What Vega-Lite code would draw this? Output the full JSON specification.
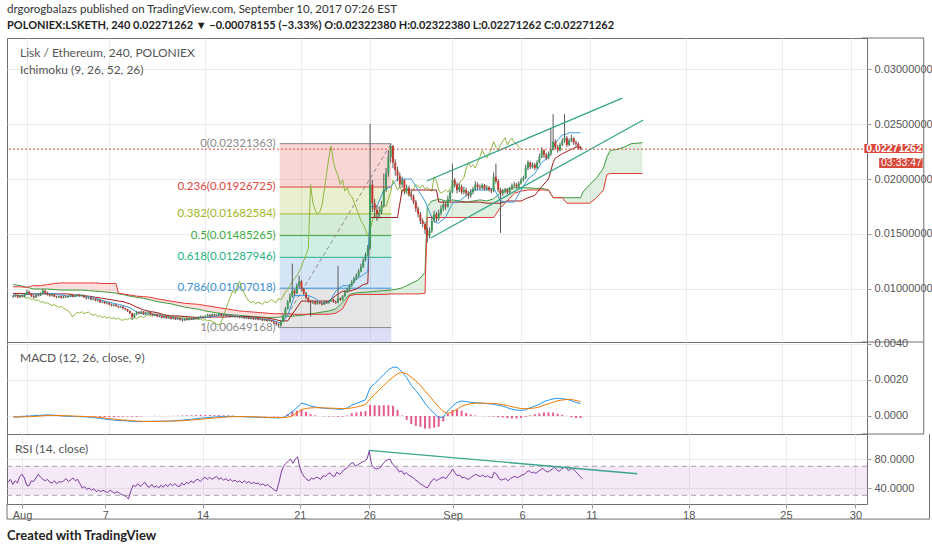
{
"$schema":"https://vega.github.io/schema/vega-lite/v6.json",
"background":"#ffffff",
"padding":{"left":5,"top":3,"right":3,"bottom":4},
"spacing":0,
"bounds":"flush",
"title":{"text":"Created with TradingView","orient":"bottom","anchor":"start","frame":"group","font":"Lato","fontSize":13,"fontWeight":"bold","color":"#222222","offset":9},
"config":{
 "view":{"stroke":"#707070","strokeWidth":1,"fill":"#ffffff"},
 "axis":{"labelFont":"Liberation Sans","labelFontSize":11,"labelColor":"#555555","tickColor":"#999999","tickSize":4,"labelPadding":3,"domain":false,"gridColor":"#ececec","gridWidth":1,"labelFlush":false},
 "text":{"font":"Lato"}
},
"datasets":{
"candles":[
{"t":"2017-07-31T00:00","o":0.0093,"h":0.0095,"l":0.0092,"c":0.00935,"r":48},
{"t":"2017-07-31T04:00","o":0.00935,"h":0.00955,"l":0.00928,"c":0.00945,"r":52},
{"t":"2017-07-31T08:00","o":0.00945,"h":0.0095,"l":0.00915,"c":0.00925,"r":45},
{"t":"2017-07-31T12:00","o":0.00925,"h":0.00948,"l":0.00918,"c":0.0094,"r":50},
{"t":"2017-07-31T16:00","o":0.0094,"h":0.00945,"l":0.00922,"c":0.0093,"r":47},
{"t":"2017-07-31T20:00","o":0.0093,"h":0.00958,"l":0.00925,"c":0.0095,"r":56},
{"t":"2017-08-01T00:00","o":0.0095,"h":0.00995,"l":0.00945,"c":0.00975,"r":59},
{"t":"2017-08-01T04:00","o":0.00975,"h":0.00985,"l":0.0095,"c":0.0096,"r":54},
{"t":"2017-08-01T08:00","o":0.0096,"h":0.00965,"l":0.00925,"c":0.00935,"r":44},
{"t":"2017-08-01T12:00","o":0.00935,"h":0.00945,"l":0.00915,"c":0.00925,"r":43},
{"t":"2017-08-01T16:00","o":0.00925,"h":0.0095,"l":0.00918,"c":0.00945,"r":50},
{"t":"2017-08-01T20:00","o":0.00945,"h":0.00955,"l":0.0093,"c":0.0094,"r":49},
{"t":"2017-08-02T00:00","o":0.0094,"h":0.0097,"l":0.00935,"c":0.0096,"r":54},
{"t":"2017-08-02T04:00","o":0.0096,"h":0.01,"l":0.00955,"c":0.00985,"r":59},
{"t":"2017-08-02T08:00","o":0.00985,"h":0.0099,"l":0.00955,"c":0.00965,"r":55},
{"t":"2017-08-02T12:00","o":0.00965,"h":0.00975,"l":0.0094,"c":0.0095,"r":52},
{"t":"2017-08-02T16:00","o":0.0095,"h":0.00958,"l":0.0093,"c":0.0094,"r":50},
{"t":"2017-08-02T20:00","o":0.0094,"h":0.0096,"l":0.00932,"c":0.0095,"r":52},
{"t":"2017-08-03T00:00","o":0.0095,"h":0.00955,"l":0.00925,"c":0.0093,"r":48},
{"t":"2017-08-03T04:00","o":0.0093,"h":0.0094,"l":0.00915,"c":0.00925,"r":47},
{"t":"2017-08-03T08:00","o":0.00925,"h":0.00942,"l":0.00918,"c":0.00935,"r":50},
{"t":"2017-08-03T12:00","o":0.00935,"h":0.0094,"l":0.00912,"c":0.0092,"r":46},
{"t":"2017-08-03T16:00","o":0.0092,"h":0.00936,"l":0.00914,"c":0.0093,"r":49},
{"t":"2017-08-03T20:00","o":0.0093,"h":0.00938,"l":0.00918,"c":0.00925,"r":48},
{"t":"2017-08-04T00:00","o":0.00925,"h":0.00942,"l":0.0092,"c":0.00935,"r":50},
{"t":"2017-08-04T04:00","o":0.00935,"h":0.00955,"l":0.00928,"c":0.00945,"r":53},
{"t":"2017-08-04T08:00","o":0.00945,"h":0.0095,"l":0.00924,"c":0.0093,"r":49},
{"t":"2017-08-04T12:00","o":0.0093,"h":0.00948,"l":0.00925,"c":0.0094,"r":51},
{"t":"2017-08-04T16:00","o":0.0094,"h":0.00958,"l":0.00935,"c":0.0095,"r":54},
{"t":"2017-08-04T20:00","o":0.0095,"h":0.00955,"l":0.0093,"c":0.00935,"r":50},
{"t":"2017-08-05T00:00","o":0.00935,"h":0.00955,"l":0.0093,"c":0.00945,"r":52},
{"t":"2017-08-05T04:00","o":0.00945,"h":0.0095,"l":0.00918,"c":0.00925,"r":46},
{"t":"2017-08-05T08:00","o":0.00925,"h":0.0093,"l":0.00905,"c":0.00915,"r":40},
{"t":"2017-08-05T12:00","o":0.00915,"h":0.00928,"l":0.00908,"c":0.0092,"r":42},
{"t":"2017-08-05T16:00","o":0.0092,"h":0.00925,"l":0.00898,"c":0.00905,"r":38},
{"t":"2017-08-05T20:00","o":0.00905,"h":0.00918,"l":0.00898,"c":0.0091,"r":40},
{"t":"2017-08-06T00:00","o":0.0091,"h":0.00915,"l":0.00888,"c":0.00895,"r":37},
{"t":"2017-08-06T04:00","o":0.00895,"h":0.00908,"l":0.00885,"c":0.009,"r":39},
{"t":"2017-08-06T08:00","o":0.009,"h":0.00905,"l":0.00872,"c":0.0088,"r":35},
{"t":"2017-08-06T12:00","o":0.0088,"h":0.00892,"l":0.00872,"c":0.00885,"r":37},
{"t":"2017-08-06T16:00","o":0.00885,"h":0.0089,"l":0.00862,"c":0.0087,"r":35},
{"t":"2017-08-06T20:00","o":0.0087,"h":0.00882,"l":0.0086,"c":0.00875,"r":37},
{"t":"2017-08-07T00:00","o":0.00875,"h":0.0088,"l":0.00852,"c":0.0086,"r":35},
{"t":"2017-08-07T04:00","o":0.0086,"h":0.00868,"l":0.00842,"c":0.0085,"r":34},
{"t":"2017-08-07T08:00","o":0.0085,"h":0.00865,"l":0.0084,"c":0.00858,"r":37},
{"t":"2017-08-07T12:00","o":0.00858,"h":0.00862,"l":0.00838,"c":0.00845,"r":35},
{"t":"2017-08-07T16:00","o":0.00845,"h":0.0085,"l":0.00825,"c":0.00835,"r":33},
{"t":"2017-08-07T20:00","o":0.00835,"h":0.00848,"l":0.00828,"c":0.0084,"r":35},
{"t":"2017-08-08T00:00","o":0.0084,"h":0.00845,"l":0.00815,"c":0.00825,"r":33},
{"t":"2017-08-08T04:00","o":0.00825,"h":0.0083,"l":0.00805,"c":0.00815,"r":31},
{"t":"2017-08-08T08:00","o":0.00815,"h":0.0082,"l":0.0079,"c":0.008,"r":30},
{"t":"2017-08-08T12:00","o":0.008,"h":0.00805,"l":0.0077,"c":0.0078,"r":28},
{"t":"2017-08-08T16:00","o":0.0078,"h":0.00785,"l":0.0072,"c":0.00745,"r":25},
{"t":"2017-08-08T20:00","o":0.00745,"h":0.0078,"l":0.00735,"c":0.0077,"r":36},
{"t":"2017-08-09T00:00","o":0.0077,"h":0.008,"l":0.0076,"c":0.0079,"r":44},
{"t":"2017-08-09T04:00","o":0.0079,"h":0.00798,"l":0.0077,"c":0.0078,"r":42},
{"t":"2017-08-09T08:00","o":0.0078,"h":0.00805,"l":0.00772,"c":0.00795,"r":46},
{"t":"2017-08-09T12:00","o":0.00795,"h":0.008,"l":0.00765,"c":0.00775,"r":42},
{"t":"2017-08-09T16:00","o":0.00775,"h":0.00795,"l":0.00768,"c":0.00785,"r":45},
{"t":"2017-08-09T20:00","o":0.00785,"h":0.008,"l":0.00775,"c":0.0079,"r":48},
{"t":"2017-08-10T00:00","o":0.0079,"h":0.00795,"l":0.00762,"c":0.0077,"r":43},
{"t":"2017-08-10T04:00","o":0.0077,"h":0.00778,"l":0.0075,"c":0.0076,"r":41},
{"t":"2017-08-10T08:00","o":0.0076,"h":0.0078,"l":0.00752,"c":0.0077,"r":45},
{"t":"2017-08-10T12:00","o":0.0077,"h":0.00775,"l":0.00742,"c":0.0075,"r":41},
{"t":"2017-08-10T16:00","o":0.0075,"h":0.00765,"l":0.00742,"c":0.00755,"r":43},
{"t":"2017-08-10T20:00","o":0.00755,"h":0.0076,"l":0.00732,"c":0.0074,"r":40},
{"t":"2017-08-11T00:00","o":0.0074,"h":0.00758,"l":0.00732,"c":0.0075,"r":44},
{"t":"2017-08-11T04:00","o":0.0075,"h":0.00755,"l":0.00728,"c":0.00735,"r":41},
{"t":"2017-08-11T08:00","o":0.00735,"h":0.00752,"l":0.00728,"c":0.00745,"r":45},
{"t":"2017-08-11T12:00","o":0.00745,"h":0.0075,"l":0.00722,"c":0.0073,"r":42},
{"t":"2017-08-11T16:00","o":0.0073,"h":0.00748,"l":0.00722,"c":0.0074,"r":46},
{"t":"2017-08-11T20:00","o":0.0074,"h":0.00745,"l":0.00718,"c":0.00725,"r":43},
{"t":"2017-08-12T00:00","o":0.00725,"h":0.00742,"l":0.00718,"c":0.00735,"r":46},
{"t":"2017-08-12T04:00","o":0.00735,"h":0.0074,"l":0.00712,"c":0.0072,"r":43},
{"t":"2017-08-12T08:00","o":0.0072,"h":0.00728,"l":0.00705,"c":0.00715,"r":42},
{"t":"2017-08-12T12:00","o":0.00715,"h":0.00738,"l":0.0071,"c":0.0073,"r":47},
{"t":"2017-08-12T16:00","o":0.0073,"h":0.00735,"l":0.00712,"c":0.0072,"r":44},
{"t":"2017-08-12T20:00","o":0.0072,"h":0.00742,"l":0.00715,"c":0.00735,"r":48},
{"t":"2017-08-13T00:00","o":0.00735,"h":0.0074,"l":0.00718,"c":0.00725,"r":46},
{"t":"2017-08-13T04:00","o":0.00725,"h":0.00748,"l":0.0072,"c":0.0074,"r":50},
{"t":"2017-08-13T08:00","o":0.0074,"h":0.00745,"l":0.00722,"c":0.0073,"r":47},
{"t":"2017-08-13T12:00","o":0.0073,"h":0.00752,"l":0.00725,"c":0.00745,"r":51},
{"t":"2017-08-13T16:00","o":0.00745,"h":0.00758,"l":0.00738,"c":0.0075,"r":52},
{"t":"2017-08-13T20:00","o":0.0075,"h":0.00755,"l":0.00732,"c":0.0074,"r":49},
{"t":"2017-08-14T00:00","o":0.0074,"h":0.00762,"l":0.00735,"c":0.00755,"r":52},
{"t":"2017-08-14T04:00","o":0.00755,"h":0.00775,"l":0.00748,"c":0.00765,"r":55},
{"t":"2017-08-14T08:00","o":0.00765,"h":0.0077,"l":0.00748,"c":0.00755,"r":52},
{"t":"2017-08-14T12:00","o":0.00755,"h":0.00778,"l":0.0075,"c":0.0077,"r":55},
{"t":"2017-08-14T16:00","o":0.0077,"h":0.00775,"l":0.00752,"c":0.0076,"r":52},
{"t":"2017-08-14T20:00","o":0.0076,"h":0.00772,"l":0.00752,"c":0.00765,"r":54},
{"t":"2017-08-15T00:00","o":0.00765,"h":0.00782,"l":0.00758,"c":0.00775,"r":56},
{"t":"2017-08-15T04:00","o":0.00775,"h":0.0078,"l":0.00752,"c":0.0076,"r":52},
{"t":"2017-08-15T08:00","o":0.0076,"h":0.00772,"l":0.00755,"c":0.00765,"r":54},
{"t":"2017-08-15T12:00","o":0.00765,"h":0.0077,"l":0.00748,"c":0.00755,"r":51},
{"t":"2017-08-15T16:00","o":0.00755,"h":0.00768,"l":0.00748,"c":0.0076,"r":53},
{"t":"2017-08-15T20:00","o":0.0076,"h":0.00765,"l":0.00742,"c":0.0075,"r":50},
{"t":"2017-08-16T00:00","o":0.0075,"h":0.00762,"l":0.00742,"c":0.00755,"r":52},
{"t":"2017-08-16T04:00","o":0.00755,"h":0.0076,"l":0.00738,"c":0.00745,"r":49},
{"t":"2017-08-16T08:00","o":0.00745,"h":0.00758,"l":0.00738,"c":0.0075,"r":51},
{"t":"2017-08-16T12:00","o":0.0075,"h":0.00755,"l":0.00732,"c":0.0074,"r":48},
{"t":"2017-08-16T16:00","o":0.0074,"h":0.00752,"l":0.00735,"c":0.00745,"r":50},
{"t":"2017-08-16T20:00","o":0.00745,"h":0.0075,"l":0.00728,"c":0.00735,"r":47},
{"t":"2017-08-17T00:00","o":0.00735,"h":0.0075,"l":0.00728,"c":0.00742,"r":50},
{"t":"2017-08-17T04:00","o":0.00742,"h":0.00748,"l":0.00724,"c":0.0073,"r":47},
{"t":"2017-08-17T08:00","o":0.0073,"h":0.00745,"l":0.00724,"c":0.00738,"r":49},
{"t":"2017-08-17T12:00","o":0.00738,"h":0.00742,"l":0.00718,"c":0.00725,"r":46},
{"t":"2017-08-17T16:00","o":0.00725,"h":0.0074,"l":0.00718,"c":0.00732,"r":48},
{"t":"2017-08-17T20:00","o":0.00732,"h":0.00736,"l":0.00715,"c":0.00722,"r":46},
{"t":"2017-08-18T00:00","o":0.00722,"h":0.00735,"l":0.00715,"c":0.00728,"r":47},
{"t":"2017-08-18T04:00","o":0.00728,"h":0.00732,"l":0.00708,"c":0.00715,"r":44},
{"t":"2017-08-18T08:00","o":0.00715,"h":0.0073,"l":0.00708,"c":0.00722,"r":46},
{"t":"2017-08-18T12:00","o":0.00722,"h":0.00726,"l":0.00702,"c":0.0071,"r":43},
{"t":"2017-08-18T16:00","o":0.0071,"h":0.00725,"l":0.00702,"c":0.00718,"r":45},
{"t":"2017-08-18T20:00","o":0.00718,"h":0.00722,"l":0.00698,"c":0.00705,"r":42},
{"t":"2017-08-19T00:00","o":0.00705,"h":0.0071,"l":0.00685,"c":0.00695,"r":40},
{"t":"2017-08-19T04:00","o":0.00695,"h":0.007,"l":0.00665,"c":0.0068,"r":37},
{"t":"2017-08-19T08:00","o":0.0068,"h":0.00688,"l":0.00649,"c":0.0067,"r":36},
{"t":"2017-08-19T12:00","o":0.0067,"h":0.00712,"l":0.00665,"c":0.00705,"r":48},
{"t":"2017-08-19T16:00","o":0.00705,"h":0.00768,"l":0.007,"c":0.0076,"r":62},
{"t":"2017-08-19T20:00","o":0.0076,"h":0.00835,"l":0.00755,"c":0.0082,"r":70},
{"t":"2017-08-20T00:00","o":0.0082,"h":0.009,"l":0.00812,"c":0.0088,"r":74},
{"t":"2017-08-20T04:00","o":0.0088,"h":0.0096,"l":0.0087,"c":0.0093,"r":77},
{"t":"2017-08-20T08:00","o":0.0093,"h":0.0123,"l":0.0092,"c":0.00985,"r":80},
{"t":"2017-08-20T12:00","o":0.00985,"h":0.01,"l":0.00935,"c":0.0096,"r":74},
{"t":"2017-08-20T16:00","o":0.0096,"h":0.0105,"l":0.00955,"c":0.0103,"r":80},
{"t":"2017-08-20T20:00","o":0.0103,"h":0.0112,"l":0.0101,"c":0.0107,"r":83},
{"t":"2017-08-21T00:00","o":0.0107,"h":0.0108,"l":0.00985,"c":0.01,"r":68},
{"t":"2017-08-21T04:00","o":0.01,"h":0.0101,"l":0.00945,"c":0.0096,"r":60},
{"t":"2017-08-21T08:00","o":0.0096,"h":0.00975,"l":0.00905,"c":0.0092,"r":55},
{"t":"2017-08-21T12:00","o":0.0092,"h":0.0093,"l":0.00875,"c":0.0089,"r":52},
{"t":"2017-08-21T16:00","o":0.0089,"h":0.009,"l":0.0075,"c":0.00875,"r":50},
{"t":"2017-08-21T20:00","o":0.00875,"h":0.00895,"l":0.00865,"c":0.00885,"r":54},
{"t":"2017-08-22T00:00","o":0.00885,"h":0.00892,"l":0.00855,"c":0.00865,"r":52},
{"t":"2017-08-22T04:00","o":0.00865,"h":0.0089,"l":0.00858,"c":0.0088,"r":55},
{"t":"2017-08-22T08:00","o":0.0088,"h":0.00888,"l":0.0086,"c":0.0087,"r":54},
{"t":"2017-08-22T12:00","o":0.0087,"h":0.00878,"l":0.0085,"c":0.0086,"r":52},
{"t":"2017-08-22T16:00","o":0.0086,"h":0.00892,"l":0.00855,"c":0.00885,"r":57},
{"t":"2017-08-22T20:00","o":0.00885,"h":0.00895,"l":0.00865,"c":0.00875,"r":56},
{"t":"2017-08-23T00:00","o":0.00875,"h":0.009,"l":0.00868,"c":0.0089,"r":59},
{"t":"2017-08-23T04:00","o":0.0089,"h":0.00915,"l":0.00882,"c":0.00905,"r":61},
{"t":"2017-08-23T08:00","o":0.00905,"h":0.0091,"l":0.00875,"c":0.00885,"r":57},
{"t":"2017-08-23T12:00","o":0.00885,"h":0.00895,"l":0.00865,"c":0.00875,"r":56},
{"t":"2017-08-23T16:00","o":0.00875,"h":0.0121,"l":0.0087,"c":0.00915,"r":62},
{"t":"2017-08-23T20:00","o":0.00915,"h":0.00925,"l":0.0089,"c":0.009,"r":59},
{"t":"2017-08-24T00:00","o":0.009,"h":0.00945,"l":0.00895,"c":0.00935,"r":61},
{"t":"2017-08-24T04:00","o":0.00935,"h":0.00985,"l":0.00925,"c":0.0097,"r":65},
{"t":"2017-08-24T08:00","o":0.0097,"h":0.0101,"l":0.0096,"c":0.00995,"r":67},
{"t":"2017-08-24T12:00","o":0.00995,"h":0.01045,"l":0.00985,"c":0.0103,"r":70},
{"t":"2017-08-24T16:00","o":0.0103,"h":0.0108,"l":0.0102,"c":0.01065,"r":74},
{"t":"2017-08-24T20:00","o":0.01065,"h":0.0111,"l":0.0105,"c":0.01095,"r":75},
{"t":"2017-08-25T00:00","o":0.01095,"h":0.0114,"l":0.0108,"c":0.0112,"r":70},
{"t":"2017-08-25T04:00","o":0.0112,"h":0.0118,"l":0.0111,"c":0.0116,"r":72},
{"t":"2017-08-25T08:00","o":0.0116,"h":0.0123,"l":0.0115,"c":0.012,"r":74},
{"t":"2017-08-25T12:00","o":0.012,"h":0.0128,"l":0.0119,"c":0.0126,"r":76},
{"t":"2017-08-25T16:00","o":0.0126,"h":0.0133,"l":0.0125,"c":0.0131,"r":77},
{"t":"2017-08-25T20:00","o":0.0131,"h":0.014,"l":0.013,"c":0.0137,"r":80},
{"t":"2017-08-26T00:00","o":0.0137,"h":0.025,"l":0.0136,"c":0.0195,"r":91},
{"t":"2017-08-26T04:00","o":0.0195,"h":0.0199,"l":0.017,"c":0.0178,"r":72},
{"t":"2017-08-26T08:00","o":0.0178,"h":0.0182,"l":0.0165,"c":0.0172,"r":68},
{"t":"2017-08-26T12:00","o":0.0172,"h":0.0176,"l":0.0162,"c":0.0168,"r":66},
{"t":"2017-08-26T16:00","o":0.0168,"h":0.0175,"l":0.0164,"c":0.017,"r":67},
{"t":"2017-08-26T20:00","o":0.017,"h":0.018,"l":0.0168,"c":0.0176,"r":69},
{"t":"2017-08-27T00:00","o":0.0176,"h":0.0205,"l":0.0174,"c":0.019,"r":74},
{"t":"2017-08-27T04:00","o":0.019,"h":0.021,"l":0.0188,"c":0.0205,"r":77},
{"t":"2017-08-27T08:00","o":0.0205,"h":0.0226,"l":0.0202,"c":0.022,"r":79},
{"t":"2017-08-27T12:00","o":0.022,"h":0.02321,"l":0.0215,"c":0.023,"r":80},
{"t":"2017-08-27T16:00","o":0.023,"h":0.0231,"l":0.021,"c":0.0215,"r":73},
{"t":"2017-08-27T20:00","o":0.0215,"h":0.0218,"l":0.0203,"c":0.0208,"r":70},
{"t":"2017-08-28T00:00","o":0.0208,"h":0.0211,"l":0.0198,"c":0.0203,"r":67},
{"t":"2017-08-28T04:00","o":0.0203,"h":0.0206,"l":0.0192,"c":0.0195,"r":62},
{"t":"2017-08-28T08:00","o":0.0195,"h":0.0202,"l":0.0192,"c":0.0199,"r":64},
{"t":"2017-08-28T12:00","o":0.0199,"h":0.02,"l":0.0186,"c":0.0189,"r":59},
{"t":"2017-08-28T16:00","o":0.0189,"h":0.0195,"l":0.0187,"c":0.0192,"r":61},
{"t":"2017-08-28T20:00","o":0.0192,"h":0.0194,"l":0.0184,"c":0.0186,"r":58},
{"t":"2017-08-29T00:00","o":0.0186,"h":0.0189,"l":0.0181,"c":0.0184,"r":56},
{"t":"2017-08-29T04:00","o":0.0184,"h":0.0186,"l":0.0177,"c":0.0179,"r":54},
{"t":"2017-08-29T08:00","o":0.0179,"h":0.0181,"l":0.017,"c":0.0173,"r":51},
{"t":"2017-08-29T12:00","o":0.0173,"h":0.0175,"l":0.0165,"c":0.0168,"r":49},
{"t":"2017-08-29T16:00","o":0.0168,"h":0.017,"l":0.0159,"c":0.0162,"r":46},
{"t":"2017-08-29T20:00","o":0.0162,"h":0.0164,"l":0.0156,"c":0.0159,"r":44},
{"t":"2017-08-30T00:00","o":0.0159,"h":0.0161,"l":0.015,"c":0.0154,"r":42},
{"t":"2017-08-30T04:00","o":0.0154,"h":0.0156,"l":0.0142,"c":0.0148,"r":40},
{"t":"2017-08-30T08:00","o":0.0148,"h":0.0156,"l":0.0146,"c":0.0153,"r":45},
{"t":"2017-08-30T12:00","o":0.0153,"h":0.0166,"l":0.0151,"c":0.0162,"r":50},
{"t":"2017-08-30T16:00","o":0.0162,"h":0.0171,"l":0.016,"c":0.0168,"r":53},
{"t":"2017-08-30T20:00","o":0.0168,"h":0.017,"l":0.0161,"c":0.0164,"r":50},
{"t":"2017-08-31T00:00","o":0.0164,"h":0.0172,"l":0.0162,"c":0.0169,"r":52},
{"t":"2017-08-31T04:00","o":0.0169,"h":0.0176,"l":0.0167,"c":0.0173,"r":54},
{"t":"2017-08-31T08:00","o":0.0173,"h":0.018,"l":0.0171,"c":0.0177,"r":55},
{"t":"2017-08-31T12:00","o":0.0177,"h":0.0179,"l":0.0172,"c":0.0175,"r":53},
{"t":"2017-08-31T16:00","o":0.0175,"h":0.0185,"l":0.0174,"c":0.0182,"r":57},
{"t":"2017-08-31T20:00","o":0.0182,"h":0.019,"l":0.018,"c":0.0188,"r":61},
{"t":"2017-09-01T00:00","o":0.0188,"h":0.0214,"l":0.0187,"c":0.0199,"r":66},
{"t":"2017-09-01T04:00","o":0.0199,"h":0.0201,"l":0.0192,"c":0.0195,"r":61},
{"t":"2017-09-01T08:00","o":0.0195,"h":0.0197,"l":0.0187,"c":0.019,"r":57},
{"t":"2017-09-01T12:00","o":0.019,"h":0.0196,"l":0.0188,"c":0.0193,"r":58},
{"t":"2017-09-01T16:00","o":0.0193,"h":0.0195,"l":0.0186,"c":0.0188,"r":54},
{"t":"2017-09-01T20:00","o":0.0188,"h":0.0193,"l":0.0186,"c":0.019,"r":55},
{"t":"2017-09-02T00:00","o":0.019,"h":0.0192,"l":0.0184,"c":0.0187,"r":53},
{"t":"2017-09-02T04:00","o":0.0187,"h":0.0189,"l":0.0182,"c":0.0185,"r":52},
{"t":"2017-09-02T08:00","o":0.0185,"h":0.0191,"l":0.0183,"c":0.0188,"r":55},
{"t":"2017-09-02T12:00","o":0.0188,"h":0.0193,"l":0.0186,"c":0.0191,"r":57},
{"t":"2017-09-02T16:00","o":0.0191,"h":0.0198,"l":0.0189,"c":0.0195,"r":59},
{"t":"2017-09-02T20:00","o":0.0195,"h":0.0197,"l":0.019,"c":0.0193,"r":57},
{"t":"2017-09-03T00:00","o":0.0193,"h":0.0195,"l":0.019,"c":0.0192,"r":56},
{"t":"2017-09-03T04:00","o":0.0192,"h":0.0196,"l":0.01905,"c":0.01945,"r":58},
{"t":"2017-09-03T08:00","o":0.01945,"h":0.01955,"l":0.01895,"c":0.0191,"r":55},
{"t":"2017-09-03T12:00","o":0.0191,"h":0.01945,"l":0.01895,"c":0.01925,"r":57},
{"t":"2017-09-03T16:00","o":0.01925,"h":0.01935,"l":0.01885,"c":0.019,"r":55},
{"t":"2017-09-03T20:00","o":0.019,"h":0.01915,"l":0.0187,"c":0.0189,"r":54},
{"t":"2017-09-04T00:00","o":0.0189,"h":0.0206,"l":0.0188,"c":0.0202,"r":62},
{"t":"2017-09-04T04:00","o":0.0202,"h":0.0214,"l":0.0196,"c":0.0198,"r":59},
{"t":"2017-09-04T08:00","o":0.0198,"h":0.02,"l":0.0188,"c":0.019,"r":53},
{"t":"2017-09-04T12:00","o":0.019,"h":0.0192,"l":0.0151,"c":0.0187,"r":51},
{"t":"2017-09-04T16:00","o":0.0187,"h":0.0191,"l":0.0185,"c":0.01885,"r":52},
{"t":"2017-09-04T20:00","o":0.01885,"h":0.0192,"l":0.0187,"c":0.019,"r":53},
{"t":"2017-09-05T00:00","o":0.019,"h":0.01915,"l":0.0186,"c":0.0188,"r":50},
{"t":"2017-09-05T04:00","o":0.0188,"h":0.0193,"l":0.01865,"c":0.01915,"r":53},
{"t":"2017-09-05T08:00","o":0.01915,"h":0.0196,"l":0.019,"c":0.0194,"r":55},
{"t":"2017-09-05T12:00","o":0.0194,"h":0.01975,"l":0.01925,"c":0.0195,"r":56},
{"t":"2017-09-05T16:00","o":0.0195,"h":0.01965,"l":0.01915,"c":0.0193,"r":54},
{"t":"2017-09-05T20:00","o":0.0193,"h":0.0198,"l":0.0192,"c":0.0196,"r":56},
{"t":"2017-09-06T00:00","o":0.0196,"h":0.0201,"l":0.0195,"c":0.0199,"r":58},
{"t":"2017-09-06T04:00","o":0.0199,"h":0.0203,"l":0.01975,"c":0.0201,"r":59},
{"t":"2017-09-06T08:00","o":0.0201,"h":0.0213,"l":0.02,"c":0.021,"r":62},
{"t":"2017-09-06T12:00","o":0.021,"h":0.0217,"l":0.0208,"c":0.0215,"r":64},
{"t":"2017-09-06T16:00","o":0.0215,"h":0.0216,"l":0.0209,"c":0.0211,"r":61},
{"t":"2017-09-06T20:00","o":0.0211,"h":0.0215,"l":0.02095,"c":0.0213,"r":62},
{"t":"2017-09-07T00:00","o":0.0213,"h":0.02145,"l":0.0208,"c":0.021,"r":60},
{"t":"2017-09-07T04:00","o":0.021,"h":0.0217,"l":0.0209,"c":0.0215,"r":63},
{"t":"2017-09-07T08:00","o":0.0215,"h":0.0223,"l":0.0214,"c":0.022,"r":65},
{"t":"2017-09-07T12:00","o":0.022,"h":0.0229,"l":0.0219,"c":0.0226,"r":67},
{"t":"2017-09-07T16:00","o":0.0226,"h":0.0227,"l":0.0219,"c":0.0222,"r":64},
{"t":"2017-09-07T20:00","o":0.0222,"h":0.0224,"l":0.0217,"c":0.0219,"r":62},
{"t":"2017-09-08T00:00","o":0.0219,"h":0.0225,"l":0.0218,"c":0.0223,"r":64},
{"t":"2017-09-08T04:00","o":0.0223,"h":0.0246,"l":0.0221,"c":0.0227,"r":66},
{"t":"2017-09-08T08:00","o":0.0227,"h":0.0259,"l":0.0226,"c":0.0234,"r":69},
{"t":"2017-09-08T12:00","o":0.0234,"h":0.0236,"l":0.0227,"c":0.0229,"r":65},
{"t":"2017-09-08T16:00","o":0.0229,"h":0.0231,"l":0.0224,"c":0.0226,"r":63},
{"t":"2017-09-08T20:00","o":0.0226,"h":0.0233,"l":0.0225,"c":0.0231,"r":66},
{"t":"2017-09-09T00:00","o":0.0231,"h":0.0237,"l":0.023,"c":0.02345,"r":68},
{"t":"2017-09-09T04:00","o":0.02345,"h":0.0259,"l":0.0233,"c":0.02375,"r":69},
{"t":"2017-09-09T08:00","o":0.02375,"h":0.0239,"l":0.0229,"c":0.0231,"r":64},
{"t":"2017-09-09T12:00","o":0.0231,"h":0.0237,"l":0.023,"c":0.0235,"r":66},
{"t":"2017-09-09T16:00","o":0.0235,"h":0.024,"l":0.02335,"c":0.0237,"r":67},
{"t":"2017-09-09T20:00","o":0.0237,"h":0.0238,"l":0.0231,"c":0.0233,"r":63},
{"t":"2017-09-10T00:00","o":0.0233,"h":0.0235,"l":0.02295,"c":0.0232,"r":60},
{"t":"2017-09-10T04:00","o":0.0232,"h":0.02335,"l":0.0227,"c":0.0229,"r":56},
{"t":"2017-09-10T08:00","o":0.0229,"h":0.023,"l":0.02265,"c":0.02271262,"r":53}
],
"ichi":[
{"t":"2017-07-31T00:00","tk":0.00945,"kj":0.0096,"sa":0.0104,"sb":0.0102},
{"t":"2017-07-31T12:00","tk":0.0094,"kj":0.0096,"sa":0.0103,"sb":0.0102},
{"t":"2017-08-01T00:00","tk":0.0095,"kj":0.00955,"sa":0.01015,"sb":0.01015},
{"t":"2017-08-01T12:00","tk":0.00955,"kj":0.00955,"sa":0.01,"sb":0.0103},
{"t":"2017-08-02T00:00","tk":0.00955,"kj":0.00955,"sa":0.01,"sb":0.0103},
{"t":"2017-08-02T12:00","tk":0.0096,"kj":0.00955,"sa":0.01,"sb":0.0104},
{"t":"2017-08-03T00:00","tk":0.0096,"kj":0.00955,"sa":0.00995,"sb":0.0105},
{"t":"2017-08-03T12:00","tk":0.00945,"kj":0.00955,"sa":0.0099,"sb":0.01055},
{"t":"2017-08-04T00:00","tk":0.00935,"kj":0.00955,"sa":0.0099,"sb":0.01055},
{"t":"2017-08-04T12:00","tk":0.00935,"kj":0.00945,"sa":0.0099,"sb":0.01055},
{"t":"2017-08-05T00:00","tk":0.0094,"kj":0.0094,"sa":0.0099,"sb":0.01055},
{"t":"2017-08-05T12:00","tk":0.0093,"kj":0.00935,"sa":0.00985,"sb":0.01055},
{"t":"2017-08-06T00:00","tk":0.00915,"kj":0.00925,"sa":0.0098,"sb":0.01055},
{"t":"2017-08-06T12:00","tk":0.00895,"kj":0.00915,"sa":0.00975,"sb":0.0105},
{"t":"2017-08-07T00:00","tk":0.0088,"kj":0.00905,"sa":0.0097,"sb":0.0105},
{"t":"2017-08-07T12:00","tk":0.00865,"kj":0.00895,"sa":0.00962,"sb":0.0105},
{"t":"2017-08-07T16:00","tk":0.0086,"kj":0.0089,"sa":0.00955,"sb":0.00962},
{"t":"2017-08-08T00:00","tk":0.0085,"kj":0.00885,"sa":0.0095,"sb":0.00955},
{"t":"2017-08-08T12:00","tk":0.0083,"kj":0.00865,"sa":0.00935,"sb":0.00945},
{"t":"2017-08-09T00:00","tk":0.0079,"kj":0.00835,"sa":0.00925,"sb":0.00935},
{"t":"2017-08-09T12:00","tk":0.0077,"kj":0.0081,"sa":0.00915,"sb":0.0093},
{"t":"2017-08-10T00:00","tk":0.00775,"kj":0.00795,"sa":0.009,"sb":0.00925},
{"t":"2017-08-10T12:00","tk":0.00765,"kj":0.00785,"sa":0.00885,"sb":0.0091},
{"t":"2017-08-11T00:00","tk":0.0075,"kj":0.00765,"sa":0.00875,"sb":0.009},
{"t":"2017-08-11T12:00","tk":0.0074,"kj":0.00755,"sa":0.00865,"sb":0.0089},
{"t":"2017-08-12T00:00","tk":0.00735,"kj":0.00755,"sa":0.0085,"sb":0.0088},
{"t":"2017-08-12T12:00","tk":0.00725,"kj":0.0075,"sa":0.00835,"sb":0.0087},
{"t":"2017-08-13T00:00","tk":0.00725,"kj":0.00745,"sa":0.00825,"sb":0.00865},
{"t":"2017-08-13T12:00","tk":0.00735,"kj":0.0074,"sa":0.00815,"sb":0.0086},
{"t":"2017-08-14T00:00","tk":0.0074,"kj":0.0074,"sa":0.008,"sb":0.0085},
{"t":"2017-08-14T12:00","tk":0.0075,"kj":0.00745,"sa":0.0079,"sb":0.0084},
{"t":"2017-08-15T00:00","tk":0.0076,"kj":0.00745,"sa":0.0078,"sb":0.0083},
{"t":"2017-08-15T12:00","tk":0.00765,"kj":0.00745,"sa":0.0077,"sb":0.0082},
{"t":"2017-08-16T00:00","tk":0.00755,"kj":0.0075,"sa":0.00765,"sb":0.0081},
{"t":"2017-08-16T12:00","tk":0.0075,"kj":0.0075,"sa":0.0076,"sb":0.008},
{"t":"2017-08-17T00:00","tk":0.0074,"kj":0.0075,"sa":0.00755,"sb":0.00795},
{"t":"2017-08-17T12:00","tk":0.00735,"kj":0.00745,"sa":0.0075,"sb":0.0079},
{"t":"2017-08-18T00:00","tk":0.00728,"kj":0.0074,"sa":0.00745,"sb":0.00785},
{"t":"2017-08-18T12:00","tk":0.0072,"kj":0.00735,"sa":0.0074,"sb":0.0078},
{"t":"2017-08-19T00:00","tk":0.00712,"kj":0.00725,"sa":0.0074,"sb":0.00775},
{"t":"2017-08-19T12:00","tk":0.0069,"kj":0.0071,"sa":0.00745,"sb":0.00775},
{"t":"2017-08-20T00:00","tk":0.0076,"kj":0.0071,"sa":0.0075,"sb":0.00775},
{"t":"2017-08-20T12:00","tk":0.0094,"kj":0.008,"sa":0.00755,"sb":0.0077},
{"t":"2017-08-21T00:00","tk":0.0094,"kj":0.0089,"sa":0.0076,"sb":0.0077},
{"t":"2017-08-21T12:00","tk":0.0094,"kj":0.0089,"sa":0.0077,"sb":0.0077},
{"t":"2017-08-22T00:00","tk":0.00915,"kj":0.0089,"sa":0.0078,"sb":0.0077},
{"t":"2017-08-22T12:00","tk":0.0087,"kj":0.0089,"sa":0.0079,"sb":0.0077},
{"t":"2017-08-23T00:00","tk":0.00875,"kj":0.0089,"sa":0.008,"sb":0.0077},
{"t":"2017-08-23T12:00","tk":0.0098,"kj":0.0094,"sa":0.0082,"sb":0.0078},
{"t":"2017-08-24T00:00","tk":0.0103,"kj":0.0098,"sa":0.0088,"sb":0.0082},
{"t":"2017-08-24T12:00","tk":0.0103,"kj":0.0098,"sa":0.0095,"sb":0.0094},
{"t":"2017-08-25T00:00","tk":0.0109,"kj":0.01,"sa":0.00965,"sb":0.0095},
{"t":"2017-08-25T12:00","tk":0.0113,"kj":0.0104,"sa":0.0097,"sb":0.0095},
{"t":"2017-08-25T20:00","tk":0.0116,"kj":0.0105,"sa":0.00972,"sb":0.0095},
{"t":"2017-08-26T00:00","tk":0.0175,"kj":0.0165,"sa":0.00975,"sb":0.0095},
{"t":"2017-08-26T12:00","tk":0.0175,"kj":0.0165,"sa":0.0098,"sb":0.0095},
{"t":"2017-08-27T00:00","tk":0.019,"kj":0.0165,"sa":0.00985,"sb":0.0095},
{"t":"2017-08-27T12:00","tk":0.0193,"kj":0.0165,"sa":0.0099,"sb":0.00955},
{"t":"2017-08-28T00:00","tk":0.02,"kj":0.0165,"sa":0.01,"sb":0.00955},
{"t":"2017-08-28T08:00","tk":0.02,"kj":0.019,"sa":0.0101,"sb":0.00955},
{"t":"2017-08-28T12:00","tk":0.02,"kj":0.019,"sa":0.0102,"sb":0.00955},
{"t":"2017-08-29T00:00","tk":0.02,"kj":0.019,"sa":0.0105,"sb":0.00955},
{"t":"2017-08-29T12:00","tk":0.019,"kj":0.019,"sa":0.0108,"sb":0.00955},
{"t":"2017-08-30T00:00","tk":0.018,"kj":0.019,"sa":0.0115,"sb":0.0096},
{"t":"2017-08-30T04:00","tk":0.0175,"kj":0.019,"sa":0.0175,"sb":0.0165},
{"t":"2017-08-30T12:00","tk":0.0165,"kj":0.019,"sa":0.018,"sb":0.0165},
{"t":"2017-08-30T20:00","tk":0.016,"kj":0.019,"sa":0.0181,"sb":0.0165},
{"t":"2017-08-31T00:00","tk":0.016,"kj":0.0179,"sa":0.0182,"sb":0.0165},
{"t":"2017-08-31T12:00","tk":0.0165,"kj":0.0179,"sa":0.018,"sb":0.0165},
{"t":"2017-09-01T00:00","tk":0.0178,"kj":0.0179,"sa":0.0181,"sb":0.0165},
{"t":"2017-09-01T12:00","tk":0.018,"kj":0.0179,"sa":0.018,"sb":0.0165},
{"t":"2017-09-02T00:00","tk":0.0185,"kj":0.0179,"sa":0.0179,"sb":0.0165},
{"t":"2017-09-02T12:00","tk":0.019,"kj":0.0179,"sa":0.018,"sb":0.0165},
{"t":"2017-09-03T00:00","tk":0.019,"kj":0.0179,"sa":0.0181,"sb":0.0165},
{"t":"2017-09-03T12:00","tk":0.019,"kj":0.0178,"sa":0.018,"sb":0.0165},
{"t":"2017-09-04T00:00","tk":0.0192,"kj":0.0178,"sa":0.0182,"sb":0.0165},
{"t":"2017-09-04T12:00","tk":0.018,"kj":0.0178,"sa":0.0188,"sb":0.0174},
{"t":"2017-09-05T00:00","tk":0.0179,"kj":0.018,"sa":0.0191,"sb":0.018},
{"t":"2017-09-05T12:00","tk":0.0179,"kj":0.018,"sa":0.0192,"sb":0.0187},
{"t":"2017-09-06T00:00","tk":0.019,"kj":0.018,"sa":0.0192,"sb":0.0189},
{"t":"2017-09-06T12:00","tk":0.02,"kj":0.0183,"sa":0.0192,"sb":0.019},
{"t":"2017-09-07T00:00","tk":0.0205,"kj":0.0185,"sa":0.01915,"sb":0.019},
{"t":"2017-09-07T12:00","tk":0.0215,"kj":0.0193,"sa":0.01915,"sb":0.019},
{"t":"2017-09-08T00:00","tk":0.022,"kj":0.02,"sa":0.019,"sb":0.019},
{"t":"2017-09-08T08:00","tk":0.0228,"kj":0.0215,"sa":0.0183,"sb":0.0183},
{"t":"2017-09-08T12:00","tk":0.0233,"kj":0.0219,"sa":0.0183,"sb":0.0183},
{"t":"2017-09-09T00:00","tk":0.024,"kj":0.0223,"sa":0.0183,"sb":0.0183},
{"t":"2017-09-09T08:00","tk":0.0241,"kj":0.0225,"sa":0.0183,"sb":0.0178},
{"t":"2017-09-09T12:00","tk":0.0242,"kj":0.0226,"sa":0.0183,"sb":0.0178},
{"t":"2017-09-10T00:00","tk":0.0242,"kj":0.0229,"sa":0.0183,"sb":0.0178},
{"t":"2017-09-10T08:00","tk":0.0242,"kj":0.0229,"sa":0.0183,"sb":0.0178},
{"t":"2017-09-10T12:00","sa":0.0188,"sb":0.0178},
{"t":"2017-09-11T00:00","sa":0.0195,"sb":0.0178},
{"t":"2017-09-11T12:00","sa":0.0201,"sb":0.0183},
{"t":"2017-09-12T00:00","sa":0.021,"sb":0.019},
{"t":"2017-09-12T06:00","sa":0.022,"sb":0.0204},
{"t":"2017-09-12T12:00","sa":0.0226,"sb":0.0205},
{"t":"2017-09-13T00:00","sa":0.0227,"sb":0.0205},
{"t":"2017-09-13T12:00","sa":0.0229,"sb":0.0205},
{"t":"2017-09-14T00:00","sa":0.0232,"sb":0.0205},
{"t":"2017-09-14T20:00","sa":0.0233,"sb":0.0205}
],
"macd":[
{"t":"2017-07-31T00:00","m":-0.00005,"s":-0.00005,"hs":0},
{"t":"2017-07-31T08:00","m":-0.00006,"s":-0.00005,"hs":-0.00001},
{"t":"2017-07-31T16:00","m":-0.00003,"s":-0.00005,"hs":0.00002},
{"t":"2017-08-01T00:00","m":-0.00001,"s":-0.00004,"hs":0.00003},
{"t":"2017-08-01T08:00","m":0,"s":-0.00003,"hs":0.00003},
{"t":"2017-08-01T16:00","m":0.00003,"s":-0.00002,"hs":0.00005},
{"t":"2017-08-02T00:00","m":0.00004,"s":0,"hs":0.00004},
{"t":"2017-08-02T08:00","m":0.00006,"s":0.00002,"hs":0.00004},
{"t":"2017-08-02T16:00","m":0.00006,"s":0.00003,"hs":0.00003},
{"t":"2017-08-03T00:00","m":0.00004,"s":0.00004,"hs":0},
{"t":"2017-08-03T08:00","m":0.00002,"s":0.00003,"hs":-0.00001},
{"t":"2017-08-03T16:00","m":0,"s":0.00002,"hs":-0.00002},
{"t":"2017-08-04T00:00","m":-0.00002,"s":0.00001,"hs":-0.00003},
{"t":"2017-08-04T08:00","m":-0.00002,"s":0,"hs":-0.00002},
{"t":"2017-08-04T16:00","m":-0.00003,"s":-0.00001,"hs":-0.00002},
{"t":"2017-08-05T00:00","m":-0.00004,"s":-0.00002,"hs":-0.00002},
{"t":"2017-08-05T08:00","m":-0.00005,"s":-0.00003,"hs":-0.00002},
{"t":"2017-08-05T16:00","m":-0.00007,"s":-0.00004,"hs":-0.00003},
{"t":"2017-08-06T00:00","m":-0.0001,"s":-0.00006,"hs":-0.00004},
{"t":"2017-08-06T08:00","m":-0.00013,"s":-0.00008,"hs":-0.00005},
{"t":"2017-08-06T16:00","m":-0.00017,"s":-0.00011,"hs":-0.00006},
{"t":"2017-08-07T00:00","m":-0.0002,"s":-0.00014,"hs":-0.00006},
{"t":"2017-08-07T08:00","m":-0.00023,"s":-0.00017,"hs":-0.00006},
{"t":"2017-08-07T16:00","m":-0.00025,"s":-0.0002,"hs":-0.00005},
{"t":"2017-08-08T00:00","m":-0.00026,"s":-0.00022,"hs":-0.00004},
{"t":"2017-08-08T08:00","m":-0.00027,"s":-0.00024,"hs":-0.00003},
{"t":"2017-08-08T16:00","m":-0.0003,"s":-0.00026,"hs":-0.00004},
{"t":"2017-08-09T00:00","m":-0.00032,"s":-0.00028,"hs":-0.00004},
{"t":"2017-08-09T08:00","m":-0.00031,"s":-0.00029,"hs":-0.00002},
{"t":"2017-08-09T16:00","m":-0.0003,"s":-0.0003,"hs":0},
{"t":"2017-08-10T00:00","m":-0.0003,"s":-0.0003,"hs":0},
{"t":"2017-08-10T08:00","m":-0.00029,"s":-0.0003,"hs":0.00001},
{"t":"2017-08-10T16:00","m":-0.00029,"s":-0.0003,"hs":0.00001},
{"t":"2017-08-11T00:00","m":-0.00029,"s":-0.00029,"hs":0},
{"t":"2017-08-11T08:00","m":-0.00028,"s":-0.00029,"hs":0.00001},
{"t":"2017-08-11T16:00","m":-0.00027,"s":-0.00028,"hs":0.00001},
{"t":"2017-08-12T00:00","m":-0.00025,"s":-0.00027,"hs":0.00002},
{"t":"2017-08-12T08:00","m":-0.00023,"s":-0.00026,"hs":0.00003},
{"t":"2017-08-12T16:00","m":-0.0002,"s":-0.00024,"hs":0.00004},
{"t":"2017-08-13T00:00","m":-0.00018,"s":-0.00022,"hs":0.00004},
{"t":"2017-08-13T08:00","m":-0.00015,"s":-0.0002,"hs":0.00005},
{"t":"2017-08-13T16:00","m":-0.00012,"s":-0.00018,"hs":0.00006},
{"t":"2017-08-14T00:00","m":-0.0001,"s":-0.00016,"hs":0.00006},
{"t":"2017-08-14T08:00","m":-0.00008,"s":-0.00013,"hs":0.00005},
{"t":"2017-08-14T16:00","m":-0.00006,"s":-0.00011,"hs":0.00005},
{"t":"2017-08-15T00:00","m":-0.00004,"s":-0.00009,"hs":0.00005},
{"t":"2017-08-15T08:00","m":-0.00003,"s":-0.00007,"hs":0.00004},
{"t":"2017-08-15T16:00","m":-0.00002,"s":-0.00005,"hs":0.00003},
{"t":"2017-08-16T00:00","m":-0.00002,"s":-0.00004,"hs":0.00002},
{"t":"2017-08-16T08:00","m":-0.00003,"s":-0.00003,"hs":0},
{"t":"2017-08-16T16:00","m":-0.00004,"s":-0.00003,"hs":-0.00001},
{"t":"2017-08-17T00:00","m":-0.00005,"s":-0.00004,"hs":-0.00001},
{"t":"2017-08-17T08:00","m":-0.00006,"s":-0.00004,"hs":-0.00002},
{"t":"2017-08-17T16:00","m":-0.00007,"s":-0.00005,"hs":-0.00002},
{"t":"2017-08-18T00:00","m":-0.00008,"s":-0.00006,"hs":-0.00002},
{"t":"2017-08-18T08:00","m":-0.00009,"s":-0.00007,"hs":-0.00002},
{"t":"2017-08-18T16:00","m":-0.00009,"s":-0.00008,"hs":-0.00001},
{"t":"2017-08-19T00:00","m":-0.0001,"s":-0.00008,"hs":-0.00002},
{"t":"2017-08-19T08:00","m":-0.00011,"s":-0.00009,"hs":-0.00002},
{"t":"2017-08-19T16:00","m":-0.00008,"s":-0.00009,"hs":0.00001},
{"t":"2017-08-20T00:00","m":0.00005,"s":-0.00006,"hs":0.00011},
{"t":"2017-08-20T08:00","m":0.00025,"s":0,"hs":0.00025},
{"t":"2017-08-20T16:00","m":0.00045,"s":0.00015,"hs":0.0003},
{"t":"2017-08-21T00:00","m":0.00072,"s":0.00035,"hs":0.00037},
{"t":"2017-08-21T08:00","m":0.00065,"s":0.00042,"hs":0.00023},
{"t":"2017-08-21T16:00","m":0.00055,"s":0.00045,"hs":0.0001},
{"t":"2017-08-22T00:00","m":0.0005,"s":0.00046,"hs":0.00004},
{"t":"2017-08-22T08:00","m":0.00046,"s":0.00046,"hs":0},
{"t":"2017-08-22T16:00","m":0.00043,"s":0.00045,"hs":-0.00002},
{"t":"2017-08-23T00:00","m":0.00041,"s":0.00044,"hs":-0.00003},
{"t":"2017-08-23T08:00","m":0.0004,"s":0.00043,"hs":-0.00003},
{"t":"2017-08-23T16:00","m":0.00038,"s":0.00042,"hs":-0.00004},
{"t":"2017-08-24T00:00","m":0.00037,"s":0.00041,"hs":-0.00004},
{"t":"2017-08-24T08:00","m":0.00045,"s":0.00042,"hs":0.00003},
{"t":"2017-08-24T16:00","m":0.0006,"s":0.00045,"hs":0.00015},
{"t":"2017-08-25T00:00","m":0.0007,"s":0.0005,"hs":0.0002},
{"t":"2017-08-25T08:00","m":0.0008,"s":0.00056,"hs":0.00024},
{"t":"2017-08-25T16:00","m":0.0009,"s":0.00063,"hs":0.00027},
{"t":"2017-08-26T00:00","m":0.00157,"s":0.00095,"hs":0.00062},
{"t":"2017-08-26T08:00","m":0.0018,"s":0.0012,"hs":0.0006},
{"t":"2017-08-26T16:00","m":0.00204,"s":0.00145,"hs":0.00059},
{"t":"2017-08-27T00:00","m":0.0023,"s":0.0017,"hs":0.0006},
{"t":"2017-08-27T08:00","m":0.00255,"s":0.00195,"hs":0.0006},
{"t":"2017-08-27T16:00","m":0.00272,"s":0.00215,"hs":0.00057},
{"t":"2017-08-28T00:00","m":0.00269,"s":0.00235,"hs":0.00034},
{"t":"2017-08-28T08:00","m":0.00245,"s":0.00242,"hs":0.00003},
{"t":"2017-08-28T16:00","m":0.00213,"s":0.00235,"hs":-0.00022},
{"t":"2017-08-29T00:00","m":0.0017,"s":0.00215,"hs":-0.00045},
{"t":"2017-08-29T08:00","m":0.0014,"s":0.00195,"hs":-0.00055},
{"t":"2017-08-29T16:00","m":0.0011,"s":0.0017,"hs":-0.0006},
{"t":"2017-08-30T00:00","m":0.0007,"s":0.0014,"hs":-0.0007},
{"t":"2017-08-30T08:00","m":0.0004,"s":0.0011,"hs":-0.0007},
{"t":"2017-08-30T16:00","m":0.00015,"s":0.0008,"hs":-0.00065},
{"t":"2017-08-31T00:00","m":-0.0001,"s":0.0005,"hs":-0.0006},
{"t":"2017-08-31T08:00","m":-0.00005,"s":0.00025,"hs":-0.0003},
{"t":"2017-08-31T16:00","m":0.00028,"s":0.00015,"hs":0.00013},
{"t":"2017-09-01T00:00","m":0.00055,"s":0.00022,"hs":0.00033},
{"t":"2017-09-01T08:00","m":0.00075,"s":0.00038,"hs":0.00037},
{"t":"2017-09-01T16:00","m":0.00083,"s":0.00053,"hs":0.0003},
{"t":"2017-09-02T00:00","m":0.0008,"s":0.00063,"hs":0.00017},
{"t":"2017-09-02T08:00","m":0.00076,"s":0.00068,"hs":0.00008},
{"t":"2017-09-02T16:00","m":0.00074,"s":0.00071,"hs":0.00003},
{"t":"2017-09-03T00:00","m":0.00072,"s":0.00072,"hs":0},
{"t":"2017-09-03T08:00","m":0.0007,"s":0.00071,"hs":-0.00001},
{"t":"2017-09-03T16:00","m":0.00068,"s":0.0007,"hs":-0.00002},
{"t":"2017-09-04T00:00","m":0.00065,"s":0.00069,"hs":-0.00004},
{"t":"2017-09-04T08:00","m":0.0006,"s":0.00067,"hs":-0.00007},
{"t":"2017-09-04T16:00","m":0.00055,"s":0.00063,"hs":-0.00008},
{"t":"2017-09-05T00:00","m":0.00046,"s":0.00058,"hs":-0.00012},
{"t":"2017-09-05T08:00","m":0.00038,"s":0.00052,"hs":-0.00014},
{"t":"2017-09-05T16:00","m":0.00033,"s":0.00046,"hs":-0.00013},
{"t":"2017-09-06T00:00","m":0.00031,"s":0.00042,"hs":-0.00011},
{"t":"2017-09-06T08:00","m":0.00035,"s":0.0004,"hs":-0.00005},
{"t":"2017-09-06T16:00","m":0.00046,"s":0.00042,"hs":0.00004},
{"t":"2017-09-07T00:00","m":0.00055,"s":0.00045,"hs":0.0001},
{"t":"2017-09-07T08:00","m":0.00065,"s":0.0005,"hs":0.00015},
{"t":"2017-09-07T16:00","m":0.0008,"s":0.0006,"hs":0.0002},
{"t":"2017-09-08T00:00","m":0.00088,"s":0.00068,"hs":0.0002},
{"t":"2017-09-08T08:00","m":0.00095,"s":0.00076,"hs":0.00019},
{"t":"2017-09-08T16:00","m":0.00098,"s":0.00085,"hs":0.00013},
{"t":"2017-09-09T00:00","m":0.00096,"s":0.00089,"hs":0.00007},
{"t":"2017-09-09T08:00","m":0.00093,"s":0.00092,"hs":0.00001},
{"t":"2017-09-09T16:00","m":0.00085,"s":0.00092,"hs":-0.00007},
{"t":"2017-09-10T00:00","m":0.00075,"s":0.00086,"hs":-0.00011},
{"t":"2017-09-10T08:00","m":0.00069,"s":0.0008,"hs":-0.00011}
],
"fib":[
{"lvl":"0","p":0.02321363,"lab":"0(0.02321363)"},
{"lvl":"0.236","p":0.01926725,"lab":"0.236(0.01926725)"},
{"lvl":"0.382","p":0.01682584,"lab":"0.382(0.01682584)"},
{"lvl":"0.5","p":0.01485265,"lab":"0.5(0.01485265)"},
{"lvl":"0.618","p":0.01287946,"lab":"0.618(0.01287946)"},
{"lvl":"0.786","p":0.01007018,"lab":"0.786(0.01007018)"},
{"lvl":"1","p":0.00649168,"lab":"1(0.00649168)"}
],
"fibband":[
{"lvl":"0.236","lo":0.01926725,"hi":0.02321363},
{"lvl":"0.382","lo":0.01682584,"hi":0.01926725},
{"lvl":"0.5","lo":0.01485265,"hi":0.01682584},
{"lvl":"0.618","lo":0.01287946,"hi":0.01485265},
{"lvl":"0.786","lo":0.01007018,"hi":0.01287946},
{"lvl":"1","lo":0.00649168,"hi":0.01007018},
{"lvl":"1.618","lo":0.003,"hi":0.00649168}
],
"chan":[
{"t":"2017-08-30T03:00","p":0.01982,"t2":"2017-09-13T09:00","p2":0.02736},
{"t":"2017-08-30T10:00","p":0.01464,"t2":"2017-09-14T21:30","p2":0.02536}
]
},
"vconcat":[
{
"width":860,"height":304,
"title":{"text":"drgorogbalazs published on TradingView.com, September 10, 2017 07:26 EST","subtitle":"POLONIEX:LSKETH, 240  0.02271262 ▼ −0.00078155 (−3.33%)  O:0.02322380 H:0.02322380 L:0.02271262 C:0.02271262","anchor":"start","frame":"group","font":"Lato","fontSize":11.5,"fontWeight":"normal","color":"#333333","subtitleFont":"Lato","subtitleFontSize":11,"subtitleFontWeight":"bold","subtitleColor":"#222222","subtitlePadding":4,"offset":7},
"layer":[
{"data":{"name":"fibband"},"mark":{"type":"rect","opacity":0.22,"clip":true},
 "encoding":{
  "x":{"datum":{"year":2017,"month":8,"date":19,"hours":10},"type":"temporal","title":null,"scale":{"domain":[{"year":2017,"month":7,"date":30,"hours":22},{"year":2017,"month":9,"date":30,"hours":20}]},
   "axis":{"values":[{"year":2017,"month":8,"date":1},{"year":2017,"month":8,"date":7},{"year":2017,"month":8,"date":14},{"year":2017,"month":8,"date":21},{"year":2017,"month":8,"date":26},{"year":2017,"month":9,"date":1},{"year":2017,"month":9,"date":6},{"year":2017,"month":9,"date":11},{"year":2017,"month":9,"date":18},{"year":2017,"month":9,"date":25},{"year":2017,"month":9,"date":30}],"labels":false,"ticks":false,"domain":false,"grid":true,"title":null,"labelPadding":0,"tickSize":0,"minExtent":0,"maxExtent":0,"offset":0}},
  "x2":{"datum":{"year":2017,"month":8,"date":27,"hours":13}},
  "y":{"field":"lo","type":"quantitative","title":null,"scale":{"domain":[0.00518,0.03282],"nice":false,"zero":false},"axis":{"orient":"right","values":[0.01,0.015,0.02,0.025,0.03],"format":".8f","grid":true,"title":null}},
  "y2":{"field":"hi"},
  "color":{"field":"lvl","type":"nominal","legend":null,"scale":{"domain":["0","0.236","0.382","0.5","0.618","0.786","1","1.618"],"range":["#8a8a8a","#e0463f","#9fb524","#3daa45","#26b385","#3c8fd6","#8a8a8a","#6b63d6"]}}}},
{"data":{"name":"ichi"},"transform":[{"filter":"datum.sa < datum.sb"}],"mark":{"type":"area","color":"#f44336","opacity":0.17},
 "encoding":{"x":{"field":"t","type":"temporal","title":null,"scale":{"domain":[{"year":2017,"month":7,"date":30,"hours":22},{"year":2017,"month":9,"date":30,"hours":20}]}},"y":{"field":"sa","type":"quantitative","title":null,"scale":{"domain":[0.00518,0.03282],"nice":false,"zero":false}},"y2":{"field":"sb"}}},
{"data":{"name":"ichi"},"transform":[{"filter":"datum.sa >= datum.sb && time(datum.t) >= time(datetime(2017,7,21))"}],"mark":{"type":"area","color":"#43a047","opacity":0.17},
 "encoding":{"x":{"field":"t","type":"temporal","title":null,"scale":{"domain":[{"year":2017,"month":7,"date":30,"hours":22},{"year":2017,"month":9,"date":30,"hours":20}]}},"y":{"field":"sa","type":"quantitative","title":null,"scale":{"domain":[0.00518,0.03282],"nice":false,"zero":false}},"y2":{"field":"sb"}}},
{"data":{"name":"ichi"},"mark":{"type":"line","color":"#3e9b3e","strokeWidth":1},
 "encoding":{"x":{"field":"t","type":"temporal","title":null,"scale":{"domain":[{"year":2017,"month":7,"date":30,"hours":22},{"year":2017,"month":9,"date":30,"hours":20}]}},"y":{"field":"sa","type":"quantitative","title":null,"scale":{"domain":[0.00518,0.03282],"nice":false,"zero":false}}}},
{"data":{"name":"ichi"},"mark":{"type":"line","color":"#e53935","strokeWidth":1},
 "encoding":{"x":{"field":"t","type":"temporal","title":null,"scale":{"domain":[{"year":2017,"month":7,"date":30,"hours":22},{"year":2017,"month":9,"date":30,"hours":20}]}},"y":{"field":"sb","type":"quantitative","title":null,"scale":{"domain":[0.00518,0.03282],"nice":false,"zero":false}}}},
{"data":{"name":"fib"},"mark":{"type":"rule","strokeWidth":1},
 "encoding":{"x":{"datum":{"year":2017,"month":8,"date":19,"hours":10},"type":"temporal","title":null,"scale":{"domain":[{"year":2017,"month":7,"date":30,"hours":22},{"year":2017,"month":9,"date":30,"hours":20}]}},"x2":{"datum":{"year":2017,"month":8,"date":27,"hours":13}},"y":{"field":"p","type":"quantitative","title":null,"scale":{"domain":[0.00518,0.03282],"nice":false,"zero":false}},"color":{"field":"lvl","type":"nominal","legend":null}}},
{"data":{"name":"fib"},"mark":{"type":"text","align":"right","baseline":"middle","dx":-4,"fontSize":11.5,"font":"Lato"},
 "encoding":{"x":{"datum":{"year":2017,"month":8,"date":19,"hours":10},"type":"temporal","title":null,"scale":{"domain":[{"year":2017,"month":7,"date":30,"hours":22},{"year":2017,"month":9,"date":30,"hours":20}]}},"y":{"field":"p","type":"quantitative","title":null,"scale":{"domain":[0.00518,0.03282],"nice":false,"zero":false}},"text":{"field":"lab"},"color":{"field":"lvl","type":"nominal","legend":null}}},
{"data":{"values":[{}]},"mark":{"type":"rule","color":"#8a8a8a","strokeDash":[4,3]},
 "encoding":{"x":{"datum":{"year":2017,"month":8,"date":19,"hours":10},"type":"temporal","title":null,"scale":{"domain":[{"year":2017,"month":7,"date":30,"hours":22},{"year":2017,"month":9,"date":30,"hours":20}]}},"x2":{"datum":{"year":2017,"month":8,"date":27,"hours":13}},"y":{"datum":0.00649168,"type":"quantitative","title":null,"scale":{"domain":[0.00518,0.03282],"nice":false,"zero":false}},"y2":{"datum":0.02321363}}},
{"data":{"name":"candles"},"transform":[{"window":[{"op":"lead","field":"c","param":26,"as":"lag"}],"sort":[{"field":"t","order":"ascending"}]}],"mark":{"type":"line","color":"#8fb63f","strokeWidth":1},
 "encoding":{"x":{"field":"t","type":"temporal","title":null,"scale":{"domain":[{"year":2017,"month":7,"date":30,"hours":22},{"year":2017,"month":9,"date":30,"hours":20}]}},"y":{"field":"lag","type":"quantitative","title":null,"scale":{"domain":[0.00518,0.03282],"nice":false,"zero":false}}}},
{"data":{"name":"ichi"},"mark":{"type":"line","color":"#a31c1c","strokeWidth":1},
 "encoding":{"x":{"field":"t","type":"temporal","title":null,"scale":{"domain":[{"year":2017,"month":7,"date":30,"hours":22},{"year":2017,"month":9,"date":30,"hours":20}]}},"y":{"field":"kj","type":"quantitative","title":null,"scale":{"domain":[0.00518,0.03282],"nice":false,"zero":false}}}},
{"data":{"name":"ichi"},"mark":{"type":"line","color":"#3d9be0","strokeWidth":1},
 "encoding":{"x":{"field":"t","type":"temporal","title":null,"scale":{"domain":[{"year":2017,"month":7,"date":30,"hours":22},{"year":2017,"month":9,"date":30,"hours":20}]}},"y":{"field":"tk","type":"quantitative","title":null,"scale":{"domain":[0.00518,0.03282],"nice":false,"zero":false}}}},
{"data":{"name":"candles"},"mark":{"type":"rule","color":"#5a5a5a","strokeWidth":1},
 "encoding":{"x":{"field":"t","type":"temporal","title":null,"scale":{"domain":[{"year":2017,"month":7,"date":30,"hours":22},{"year":2017,"month":9,"date":30,"hours":20}]}},"y":{"field":"l","type":"quantitative","title":null,"scale":{"domain":[0.00518,0.03282],"nice":false,"zero":false}},"y2":{"field":"h"}}},
{"data":{"name":"candles"},"mark":{"type":"bar","width":2},
 "encoding":{"x":{"field":"t","type":"temporal","title":null,"scale":{"domain":[{"year":2017,"month":7,"date":30,"hours":22},{"year":2017,"month":9,"date":30,"hours":20}]}},"y":{"field":"o","type":"quantitative","title":null,"scale":{"domain":[0.00518,0.03282],"nice":false,"zero":false}},"y2":{"field":"c"},"color":{"condition":{"test":"datum.c >= datum.o","value":"#3f9a5c"},"value":"#c23a2e"}}},
{"data":{"name":"chan","format":{"parse":{"t":"date","t2":"date"}}},"mark":{"type":"rule","color":"#35a58a","strokeWidth":1.3},
 "encoding":{"x":{"field":"t","type":"temporal","title":null,"scale":{"domain":[{"year":2017,"month":7,"date":30,"hours":22},{"year":2017,"month":9,"date":30,"hours":20}]}},"x2":{"field":"t2"},"y":{"field":"p","type":"quantitative","title":null,"scale":{"domain":[0.00518,0.03282],"nice":false,"zero":false}},"y2":{"field":"p2"}}},
{"data":{"values":[{}]},"mark":{"type":"rule","color":"#e0463c","strokeDash":[2,2],"strokeWidth":1},
 "encoding":{"y":{"datum":0.02271262,"type":"quantitative","title":null,"scale":{"domain":[0.00518,0.03282],"nice":false,"zero":false}}}},
{"data":{"values":[{"y":0.03282,"y2":0.03282},{"y":0.00518,"y2":0.00518}]},"mark":{"type":"rule","color":"#707070","strokeWidth":1},
 "encoding":{"x":{"datum":{"year":2017,"month":9,"date":30,"hours":20},"type":"temporal","title":null,"scale":{"domain":[{"year":2017,"month":7,"date":30,"hours":22},{"year":2017,"month":9,"date":30,"hours":20}]}},"x2":{"datum":{"year":2017,"month":10,"date":5,"hours":8}},"y":{"field":"y","type":"quantitative","title":null,"scale":{"domain":[0.00518,0.03282],"nice":false,"zero":false}},"y2":{"field":"y2"}}},
{"data":{"values":[{}]},"mark":{"type":"rule","color":"#707070","strokeWidth":1},
 "encoding":{"x":{"datum":{"year":2017,"month":10,"date":5,"hours":8},"type":"temporal","title":null,"scale":{"domain":[{"year":2017,"month":7,"date":30,"hours":22},{"year":2017,"month":9,"date":30,"hours":20}]}},"y":{"datum":0.00518,"type":"quantitative","title":null,"scale":{"domain":[0.00518,0.03282],"nice":false,"zero":false}},"y2":{"datum":0.03282}}},
{"data":{"values":[{}]},"mark":{"type":"rect","color":"#d8483b"},
 "encoding":{"x":{"datum":{"year":2017,"month":10,"date":1},"type":"temporal","title":null,"scale":{"domain":[{"year":2017,"month":7,"date":30,"hours":22},{"year":2017,"month":9,"date":30,"hours":20}]}},"x2":{"datum":{"year":2017,"month":10,"date":5,"hours":6}},"y":{"datum":0.02236,"type":"quantitative","title":null,"scale":{"domain":[0.00518,0.03282],"nice":false,"zero":false}},"y2":{"datum":0.02318}}},
{"data":{"values":[{}]},"mark":{"type":"text","color":"#ffffff","fontSize":10.5,"font":"Liberation Sans","fontWeight":"bold","align":"center","baseline":"middle"},
 "encoding":{"x":{"datum":{"year":2017,"month":10,"date":3,"hours":4},"type":"temporal","title":null,"scale":{"domain":[{"year":2017,"month":7,"date":30,"hours":22},{"year":2017,"month":9,"date":30,"hours":20}]}},"y":{"datum":0.02277,"type":"quantitative","title":null,"scale":{"domain":[0.00518,0.03282],"nice":false,"zero":false}},"text":{"value":"0.02271262"}}},
{"data":{"values":[{}]},"mark":{"type":"rect","color":"#d8483b"},
 "encoding":{"x":{"datum":{"year":2017,"month":10,"date":2,"hours":2},"type":"temporal","title":null,"scale":{"domain":[{"year":2017,"month":7,"date":30,"hours":22},{"year":2017,"month":9,"date":30,"hours":20}]}},"x2":{"datum":{"year":2017,"month":10,"date":5,"hours":6}},"y":{"datum":0.021,"type":"quantitative","title":null,"scale":{"domain":[0.00518,0.03282],"nice":false,"zero":false}},"y2":{"datum":0.02191}}},
{"data":{"values":[{}]},"mark":{"type":"text","color":"#ffffff","fontSize":10.5,"font":"Liberation Sans","align":"center","baseline":"middle"},
 "encoding":{"x":{"datum":{"year":2017,"month":10,"date":3,"hours":17},"type":"temporal","title":null,"scale":{"domain":[{"year":2017,"month":7,"date":30,"hours":22},{"year":2017,"month":9,"date":30,"hours":20}]}},"y":{"datum":0.02146,"type":"quantitative","title":null,"scale":{"domain":[0.00518,0.03282],"nice":false,"zero":false}},"text":{"value":"03:33:47"}}},
{"data":{"values":[{"y":0.03145,"txt":"Lisk / Ethereum, 240, POLONIEX"},{"y":0.02991,"txt":"Ichimoku (9, 26, 52, 26)"}]},"mark":{"type":"text","align":"left","baseline":"middle","fontSize":12,"font":"Lato","color":"#555555"},
 "encoding":{"x":{"datum":{"year":2017,"month":7,"date":31,"hours":12},"type":"temporal","title":null,"scale":{"domain":[{"year":2017,"month":7,"date":30,"hours":22},{"year":2017,"month":9,"date":30,"hours":20}]}},"y":{"field":"y","type":"quantitative","title":null,"scale":{"domain":[0.00518,0.03282],"nice":false,"zero":false}},"text":{"field":"txt"}}}
]
},
{
"width":860,"height":92,
"layer":[
{"data":{"name":"macd"},"mark":{"type":"bar","width":2,"color":"#e2407a","opacity":0.85},
 "encoding":{
  "x":{"field":"t","type":"temporal","title":null,"scale":{"domain":[{"year":2017,"month":7,"date":30,"hours":22},{"year":2017,"month":9,"date":30,"hours":20}]},
   "axis":{"values":[{"year":2017,"month":8,"date":1},{"year":2017,"month":8,"date":7},{"year":2017,"month":8,"date":14},{"year":2017,"month":8,"date":21},{"year":2017,"month":8,"date":26},{"year":2017,"month":9,"date":1},{"year":2017,"month":9,"date":6},{"year":2017,"month":9,"date":11},{"year":2017,"month":9,"date":18},{"year":2017,"month":9,"date":25},{"year":2017,"month":9,"date":30}],"labels":false,"ticks":false,"domain":false,"grid":true,"title":null,"labelPadding":0,"tickSize":0,"minExtent":0,"maxExtent":0,"offset":0}},
  "y":{"field":"hs","type":"quantitative","title":null,"scale":{"domain":[-0.001,0.00411],"nice":false,"zero":false},"axis":{"orient":"right","values":[0,0.002,0.004],"format":".4f","grid":true,"title":null}},
  "y2":{"datum":0}}},
{"data":{"name":"macd"},"mark":{"type":"line","color":"#2196f3","strokeWidth":1},
 "encoding":{"x":{"field":"t","type":"temporal","title":null,"scale":{"domain":[{"year":2017,"month":7,"date":30,"hours":22},{"year":2017,"month":9,"date":30,"hours":20}]}},"y":{"field":"m","type":"quantitative","title":null,"scale":{"domain":[-0.001,0.00411],"nice":false,"zero":false}}}},
{"data":{"name":"macd"},"mark":{"type":"line","color":"#f57c00","strokeWidth":1},
 "encoding":{"x":{"field":"t","type":"temporal","title":null,"scale":{"domain":[{"year":2017,"month":7,"date":30,"hours":22},{"year":2017,"month":9,"date":30,"hours":20}]}},"y":{"field":"s","type":"quantitative","title":null,"scale":{"domain":[-0.001,0.00411],"nice":false,"zero":false}}}},
{"data":{"values":[{}]},"mark":{"type":"rule","color":"#707070","strokeWidth":1},
 "encoding":{"x":{"datum":{"year":2017,"month":9,"date":30,"hours":20},"type":"temporal","title":null,"scale":{"domain":[{"year":2017,"month":7,"date":30,"hours":22},{"year":2017,"month":9,"date":30,"hours":20}]}},"x2":{"datum":{"year":2017,"month":10,"date":5,"hours":8}},"y":{"datum":-0.001,"type":"quantitative","title":null,"scale":{"domain":[-0.001,0.00411],"nice":false,"zero":false}},"y2":{"datum":-0.001}}},
{"data":{"values":[{}]},"mark":{"type":"rule","color":"#707070","strokeWidth":1},
 "encoding":{"x":{"datum":{"year":2017,"month":10,"date":5,"hours":8},"type":"temporal","title":null,"scale":{"domain":[{"year":2017,"month":7,"date":30,"hours":22},{"year":2017,"month":9,"date":30,"hours":20}]}},"y":{"datum":-0.001,"type":"quantitative","title":null,"scale":{"domain":[-0.001,0.00411],"nice":false,"zero":false}},"y2":{"datum":0.00411}}},
{"data":{"values":[{}]},"mark":{"type":"text","align":"left","baseline":"middle","fontSize":12,"font":"Lato","color":"#555555"},
 "encoding":{"x":{"datum":{"year":2017,"month":7,"date":31,"hours":12},"type":"temporal","title":null,"scale":{"domain":[{"year":2017,"month":7,"date":30,"hours":22},{"year":2017,"month":9,"date":30,"hours":20}]}},"y":{"datum":0.00322,"type":"quantitative","title":null,"scale":{"domain":[-0.001,0.00411],"nice":false,"zero":false}},"text":{"value":"MACD (12, 26, close, 9)"}}}
]
},
{
"width":860,"height":70,
"layer":[
{"data":{"values":[{}]},"mark":{"type":"rect","color":"#9c27b0","opacity":0.1},
 "encoding":{
  "x":{"datum":{"year":2017,"month":7,"date":30,"hours":22},"type":"temporal","title":null,"scale":{"domain":[{"year":2017,"month":7,"date":30,"hours":22},{"year":2017,"month":9,"date":30,"hours":20}]},
   "axis":{"values":[{"year":2017,"month":8,"date":1},{"year":2017,"month":8,"date":7},{"year":2017,"month":8,"date":14},{"year":2017,"month":8,"date":21},{"year":2017,"month":8,"date":26},{"year":2017,"month":9,"date":1},{"year":2017,"month":9,"date":6},{"year":2017,"month":9,"date":11},{"year":2017,"month":9,"date":18},{"year":2017,"month":9,"date":25},{"year":2017,"month":9,"date":30}],"labelExpr":"date(datum.value) == 1 ? timeFormat(datum.value, '%b') : timeFormat(datum.value, '%-d')","grid":true,"ticks":true,"title":null,"labelOverlap":false,"labelPadding":1}},
  "x2":{"datum":{"year":2017,"month":9,"date":30,"hours":20}},
  "y":{"datum":30,"type":"quantitative","title":null,"scale":{"domain":[18,114.5],"nice":false,"zero":false},"axis":{"orient":"right","values":[40,80],"format":".4f","grid":true,"title":null}},
  "y2":{"datum":70}}},
{"data":{"values":[{"v":70},{"v":30}]},"mark":{"type":"rule","color":"#a5a5a5","strokeDash":[5,4]},
 "encoding":{"y":{"field":"v","type":"quantitative","title":null,"scale":{"domain":[18,114.5],"nice":false,"zero":false}}}},
{"data":{"name":"candles"},"mark":{"type":"line","color":"#7b3aa0","strokeWidth":1},
 "encoding":{"x":{"field":"t","type":"temporal","title":null,"scale":{"domain":[{"year":2017,"month":7,"date":30,"hours":22},{"year":2017,"month":9,"date":30,"hours":20}]}},"y":{"field":"r","type":"quantitative","title":null,"scale":{"domain":[18,114.5],"nice":false,"zero":false}}}},
{"data":{"values":[{}]},"mark":{"type":"rule","color":"#3aa58c","strokeWidth":1.3},
 "encoding":{"x":{"datum":{"year":2017,"month":8,"date":25,"hours":23},"type":"temporal","title":null,"scale":{"domain":[{"year":2017,"month":7,"date":30,"hours":22},{"year":2017,"month":9,"date":30,"hours":20}]}},"x2":{"datum":{"year":2017,"month":9,"date":14,"hours":7}},"y":{"datum":92,"type":"quantitative","title":null,"scale":{"domain":[18,114.5],"nice":false,"zero":false}},"y2":{"datum":59.7}}},
{"data":{"values":[{}]},"mark":{"type":"rule","color":"#707070","strokeWidth":1},
 "encoding":{"x":{"datum":{"year":2017,"month":10,"date":5,"hours":8},"type":"temporal","title":null,"scale":{"domain":[{"year":2017,"month":7,"date":30,"hours":22},{"year":2017,"month":9,"date":30,"hours":20}]}},"y":{"datum":-2.8,"type":"quantitative","title":null,"scale":{"domain":[18,114.5],"nice":false,"zero":false}},"y2":{"datum":114.5}}},
{"data":{"values":[{}]},"mark":{"type":"rule","color":"#707070","strokeWidth":1},
 "encoding":{"x":{"datum":{"year":2017,"month":7,"date":30,"hours":22},"type":"temporal","title":null,"scale":{"domain":[{"year":2017,"month":7,"date":30,"hours":22},{"year":2017,"month":9,"date":30,"hours":20}]}},"x2":{"datum":{"year":2017,"month":10,"date":5,"hours":8}},"y":{"datum":-2.8,"type":"quantitative","title":null,"scale":{"domain":[18,114.5],"nice":false,"zero":false}},"y2":{"datum":-2.8}}},
{"data":{"values":[{}]},"mark":{"type":"rule","color":"#707070","strokeWidth":1},
 "encoding":{"x":{"datum":{"year":2017,"month":7,"date":30,"hours":22},"type":"temporal","title":null,"scale":{"domain":[{"year":2017,"month":7,"date":30,"hours":22},{"year":2017,"month":9,"date":30,"hours":20}]}},"y":{"datum":-2.8,"type":"quantitative","title":null,"scale":{"domain":[18,114.5],"nice":false,"zero":false}},"y2":{"datum":18}}},
{"data":{"values":[{}]},"mark":{"type":"text","align":"left","baseline":"middle","fontSize":12,"font":"Lato","color":"#555555"},
 "encoding":{"x":{"datum":{"year":2017,"month":7,"date":31,"hours":12},"type":"temporal","title":null,"scale":{"domain":[{"year":2017,"month":7,"date":30,"hours":22},{"year":2017,"month":9,"date":30,"hours":20}]}},"y":{"datum":93.8,"type":"quantitative","title":null,"scale":{"domain":[18,114.5],"nice":false,"zero":false}},"text":{"value":"RSI (14, close)"}}}
]
}
]
}
